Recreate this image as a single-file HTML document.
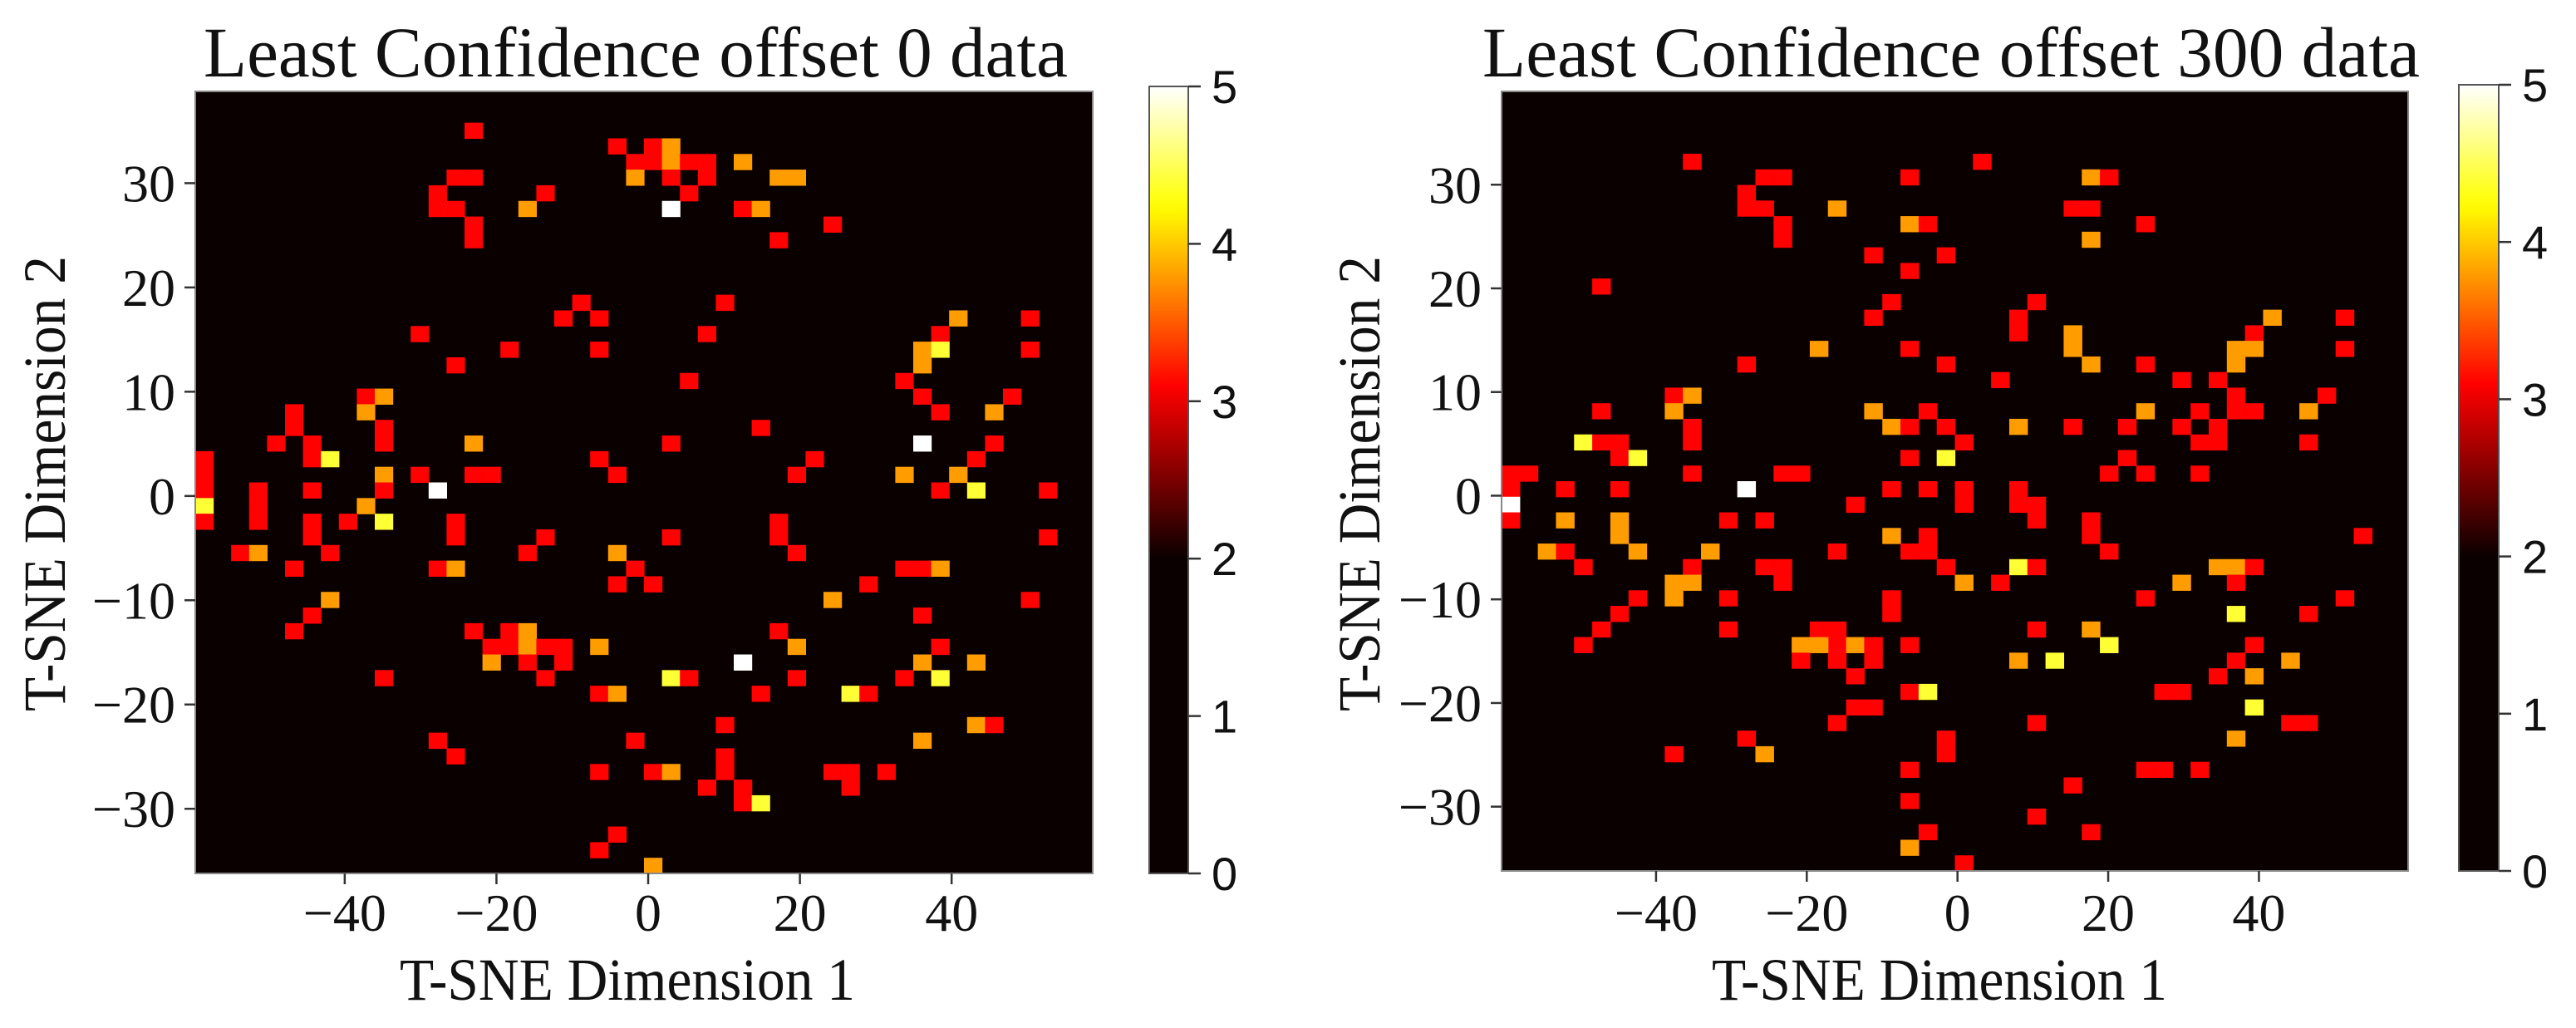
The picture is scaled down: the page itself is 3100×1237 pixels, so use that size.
<!DOCTYPE html>
<html><head><meta charset="utf-8"><style>
html,body{margin:0;padding:0;background:#fff;}
svg{display:block;}
</style></head><body>
<svg id="fig" width="3100" height="1237" viewBox="0 0 3100 1237" xmlns="http://www.w3.org/2000/svg"></svg>
<script>
// ---- Data: 2D histogram bins (column index, row index from top, colour value) ----
const leftCols=[15,14,15,13,13,14,15,15,18,19,23,24,25,25,26,26,24,26,27,28,28,27,26,30,32,33,30,31,35,32,21,20,22,29,28,12,17,22,14,27,42,46,46,41,40,41,40,39,40,41,45,44,44,40,43,42,41,43,47,47,31,34,33,39,9,10,9,10,10,10,5,4,6,6,7,5,0,0,0,0,0,3,3,3,6,6,6,2,3,7,5,7,6,5,15,13,12,15,16,10,9,8,10,14,14,13,14,18,19,22,23,26,26,23,23,24,25,32,32,33,39,40,41,37,35,40,46,15,16,17,17,18,18,19,20,16,18,20,19,10,22,22,23,26,27,32,33,30,31,33,29,24,36,37,39,40,41,41,43,43,44,40,38,35,36,36,13,14,22,25,26,29,29,28,30,30,31,23,22,25];
const leftRows=[2,5,5,6,7,7,8,9,7,6,3,4,4,3,3,4,5,5,4,4,5,6,7,4,5,5,7,7,8,9,13,14,14,13,15,15,16,16,17,18,14,14,16,15,16,16,17,18,19,20,19,20,22,22,23,24,25,25,25,28,21,23,24,24,19,19,20,21,22,24,20,22,22,23,23,21,23,24,25,26,27,25,26,27,25,27,28,29,29,29,30,32,33,34,22,25,24,24,24,25,26,27,27,27,28,30,30,29,28,23,24,22,28,29,31,30,31,27,28,29,30,30,30,31,32,33,32,34,35,35,34,34,35,35,35,36,36,36,37,37,35,38,38,37,37,34,35,36,38,37,40,41,38,38,37,36,37,35,36,40,40,41,43,43,43,44,41,42,43,43,43,42,43,44,44,45,45,47,48,49];
const leftVals=[3.1,3.1,3.1,3.1,3.1,3.1,3.1,3.1,3.8,3.1,3.1,3.1,3.1,3.1,3.8,3.8,3.8,3.1,3.1,3.1,3.1,3.1,5,3.8,3.8,3.8,3.1,3.8,3.1,3.1,3.1,3.1,3.1,3.1,3.1,3.1,3.1,3.1,3.1,3.1,3.8,3.1,3.1,3.1,3.8,4.4,3.8,3.1,3.1,3.1,3.1,3.8,3.1,5,3.1,3.8,3.1,4.4,3.1,3.1,3.1,3.1,3.1,3.8,3.1,3.8,3.8,3.1,3.1,3.8,3.1,3.1,3.1,3.1,4.4,3.1,3.1,3.1,3.1,4.4,3.1,3.1,3.1,3.1,3.1,3.1,3.1,3.1,3.8,3.1,3.1,3.8,3.1,3.1,3.8,5,3.1,3.1,3.1,3.1,3.8,3.1,4.4,3.1,3.1,3.1,3.8,3.1,3.1,3.1,3.1,3.1,3.1,3.8,3.1,3.1,3.1,3.1,3.1,3.1,3.1,3.1,3.8,3.1,3.8,3.1,3.1,3.1,3.1,3.1,3.1,3.8,3.8,3.1,3.1,3.8,3.1,3.1,3.1,3.1,3.8,3.1,3.8,4.4,3.1,3.1,3.8,5,3.1,3.1,3.1,3.1,4.4,3.1,3.1,3.8,4.4,3.1,3.8,3.8,3.1,3.8,3.1,3.1,3.1,3.1,3.1,3.1,3.1,3.1,3.8,3.1,3.1,3.1,3.1,3.1,4.4,3.1,3.1,3.8];

const rightCols=[10,26,14,15,22,32,33,13,13,14,15,15,18,22,23,31,32,32,35,20,24,22,5,21,20,29,28,28,42,46,46,41,40,41,40,31,31,32,17,13,22,24,35,27,37,39,40,41,40,45,44,38,39,38,39,37,44,35,34,31,28,20,21,22,23,24,25,22,24,9,10,9,10,10,5,4,5,6,6,7,10,15,16,0,1,0,0,0,3,3,6,6,6,13,12,14,7,2,3,4,11,10,9,9,10,7,6,5,4,12,12,14,15,15,18,19,21,23,25,25,28,28,29,29,21,22,23,23,24,25,27,28,29,32,32,33,33,34,35,38,47,39,40,41,40,37,35,46,40,44,21,21,17,18,18,16,17,16,18,19,20,20,19,22,29,28,30,32,33,41,40,41,39,43,37,36,22,23,19,20,18,29,41,43,44,40,13,14,9,24,24,22,35,36,38,31,22,29,23,22,32,25];
const rightRows=[4,4,5,5,5,5,5,6,7,7,8,9,7,8,8,7,7,9,8,10,10,11,12,13,14,13,14,15,14,14,16,15,16,16,17,15,16,17,16,17,16,17,17,18,18,18,19,20,20,19,20,20,21,22,22,21,22,20,21,21,21,20,21,21,20,21,22,23,23,19,19,20,21,22,20,22,22,22,23,23,24,24,24,24,24,25,26,27,25,27,25,27,28,25,27,27,29,29,29,30,29,30,31,32,31,32,33,34,35,32,34,30,30,31,29,26,25,25,25,26,25,26,26,27,28,29,29,28,30,31,31,30,30,27,28,29,24,23,24,24,28,30,30,30,31,31,32,32,33,33,32,33,34,34,35,35,35,36,36,35,35,36,37,35,34,36,36,34,35,35,36,37,37,36,38,38,38,38,39,39,40,40,39,40,40,41,41,42,42,41,42,43,43,43,43,44,45,46,47,48,47,49];
const rightVals=[3.1,3.1,3.1,3.1,3.1,3.8,3.1,3.1,3.1,3.1,3.1,3.1,3.8,3.8,3.1,3.1,3.1,3.8,3.1,3.1,3.1,3.1,3.1,3.1,3.1,3.1,3.1,3.1,3.8,3.1,3.1,3.1,3.8,3.8,3.8,3.8,3.8,3.8,3.8,3.1,3.1,3.1,3.1,3.1,3.1,3.1,3.1,3.1,3.1,3.1,3.8,3.1,3.1,3.1,3.1,3.1,3.1,3.8,3.1,3.1,3.8,3.8,3.8,3.1,3.1,3.1,3.1,3.1,4.4,3.1,3.8,3.8,3.1,3.1,3.1,4.4,3.1,3.1,3.1,4.4,3.1,3.1,3.1,3.1,3.1,3.1,5,3.1,3.1,3.8,3.1,3.8,3.8,5,3.1,3.1,3.8,3.8,3.1,3.1,3.8,3.1,3.8,3.8,3.8,3.1,3.1,3.1,3.1,3.1,3.1,3.1,3.1,3.1,3.1,3.1,3.1,3.1,3.1,3.1,3.1,3.1,3.1,3.1,3.8,3.1,3.1,3.1,3.1,3.8,3.1,4.4,3.1,3.1,3.1,3.1,3.1,3.1,3.1,3.1,3.1,3.8,3.8,3.1,3.1,3.8,3.1,3.1,4.4,3.1,3.1,3.1,3.1,3.1,3.1,3.8,3.8,3.1,3.1,3.8,3.1,3.1,3.1,3.1,3.1,3.8,4.4,3.8,4.4,3.1,3.1,3.8,3.1,3.8,3.1,3.1,3.1,4.4,3.1,3.1,3.1,3.1,4.4,3.1,3.1,3.8,3.1,3.8,3.1,3.1,3.1,3.1,3.1,3.1,3.1,3.1,3.1,3.1,3.1,3.8,3.1,3.1,3.1,3.8];

const xTicks=[-40,-20,0,20,40];
const xTickLabels=["\u221240","\u221220","0","20","40"];
const yTicks=[30,20,10,0,-10,-20,-30];
const yTickLabels=["30","20","10","0","\u221210","\u221220","\u221230"];
const cbarTicks=[0,1,2,3,4,5];
const cbarTickLabels=["0","1","2","3","4","5"];
const titles=["Least Confidence offset 0 data","Least Confidence offset 300 data"];

const NS="http://www.w3.org/2000/svg";
const svg=document.getElementById('fig');
function mk(tag,attrs,parent){const e=document.createElementNS(NS,tag);for(const k in attrs)e.setAttribute(k,attrs[k]);(parent||svg).appendChild(e);return e;}

// hot colormap applied on [2,5]
function hot(v){
  let t=(v-2)/3; t=Math.max(0,Math.min(1,t));
  const r=Math.min(1,0.0416+t/0.365*(1-0.0416));
  const g=Math.max(0,Math.min(1,(t-0.365)/0.381));
  const b=Math.max(0,Math.min(1,(t-0.746)/0.254));
  return `rgb(${Math.round(r*255)},${Math.round(g*255)},${Math.round(b*255)})`;
}

const panels=[
 {id:'left',L:235,R:1315,T:110,B:1051,xmin:-59.7,xmax:58.6,ymin:-36.2,ymax:38.8,
  cols:leftCols,rows:leftRows,vals:leftVals,title:titles[0],titleX:765,titleW:1040,
  xlabX:755,ylabX:78,cb:{L:1383,R:1430,T:104,B:1051}},
 {id:'right',L:1807,R:2898,T:110,B:1048,xmin:-60.5,xmax:59.8,ymin:-36.2,ymax:39.0,
  cols:rightCols,rows:rightRows,vals:rightVals,title:titles[1],titleX:2348,titleW:1128,
  xlabX:2334,ylabX:1660,cb:{L:2959,R:3007,T:102,B:1048}}
];

// gradient def
const defs=mk('defs',{});
const grad=mk('linearGradient',{id:'hotgrad',x1:'0',y1:'1',x2:'0',y2:'0'},defs);
for(let i=0;i<=50;i++){const v=i/10*1;mk('stop',{offset:(v/5).toFixed(3),'stop-color':hot(v)},grad);}

panels.forEach(p=>{
  const g=mk('g',{});
  
  
  const W=p.R-p.L,H=p.B-p.T,NC=50,NR=50;
  const xs=v=>p.L+(v-p.xmin)/(p.xmax-p.xmin)*W;
  const ys=v=>p.B-(v-p.ymin)/(p.ymax-p.ymin)*H;
  const colX=c=>p.L+c*W/NC;
  const rowY=r=>p.T+r*H/NR;
  const bg=mk('rect',{x:p.L,y:p.T,width:W,height:H,fill:hot(0)},g);
  
  
  for(let i=0;i<p.cols.length;i++){
    const x0=colX(p.cols[i]),x1=colX(p.cols[i]+1),y0=rowY(p.rows[i]),y1=rowY(p.rows[i]+1);
    const c=mk('rect',{x:x0.toFixed(2),y:y0.toFixed(2),width:(x1-x0+0.6).toFixed(2),height:(y1-y0+0.6).toFixed(2),fill:hot(p.vals[i])},g);
    
    
  }
  const fr=mk('rect',{x:p.L,y:p.T,width:W,height:H,fill:'none',stroke:'#888','stroke-width':2},g);
  
  
  // x ticks
  xTicks.forEach((v,i)=>{
    const X=xs(v);
    mk('line',{x1:X,y1:p.B,x2:X,y2:p.B+13,stroke:'#333','stroke-width':2.5},g);
    const t=mk('text',{x:X,y:1120,'text-anchor':'middle','font-family':'"Liberation Serif",serif','font-size':64,fill:'#111'},g);
    t.textContent=xTickLabels[i];
    
    
  });
  yTicks.forEach((v,i)=>{
    const Y=ys(v);
    mk('line',{x1:p.L-13,y1:Y,x2:p.L,y2:Y,stroke:'#333','stroke-width':2.5},g);
    const t=mk('text',{x:p.L-24,y:Y+22,'text-anchor':'end','font-family':'"Liberation Serif",serif','font-size':64,fill:'#111'},g);
    t.textContent=yTickLabels[i];
    
    
  });
  const tt=mk('text',{x:p.titleX,y:92,'text-anchor':'middle','font-family':'"Liberation Serif",serif','font-size':86,fill:'#111',textLength:p.titleW,lengthAdjust:'spacingAndGlyphs'},g);
  tt.textContent=p.title;
  
  
  const xl=mk('text',{x:p.xlabX,y:1203,'text-anchor':'middle','font-family':'"Liberation Serif",serif','font-size':72,fill:'#111',textLength:548,lengthAdjust:'spacingAndGlyphs'},g);
  xl.textContent='T-SNE Dimension 1';
  
  
  const yl=mk('text',{x:0,y:0,transform:`translate(${p.ylabX},582) rotate(-90)`,'text-anchor':'middle','font-family':'"Liberation Serif",serif','font-size':72,fill:'#111',textLength:548,lengthAdjust:'spacingAndGlyphs'},g);
  yl.textContent='T-SNE Dimension 2';
  
  
  // colorbar
  const cb=p.cb;
  const cbr=mk('rect',{x:cb.L,y:cb.T,width:cb.R-cb.L,height:cb.B-cb.T,fill:'url(#hotgrad)',stroke:'#555','stroke-width':2},g);
  
  
  const cy=v=>cb.B-v/5*(cb.B-cb.T);
  cbarTicks.forEach((v,i)=>{
    const Y=cy(v);
    mk('line',{x1:cb.R,y1:Y,x2:cb.R+15,y2:Y,stroke:'#333','stroke-width':2.5},g);
    const t=mk('text',{x:cb.R+28,y:Y+20,'font-family':'"Liberation Sans",sans-serif','font-size':56,fill:'#111'},g);
    t.textContent=cbarTickLabels[i];
    
    
  });
});
</script>
</body></html>
